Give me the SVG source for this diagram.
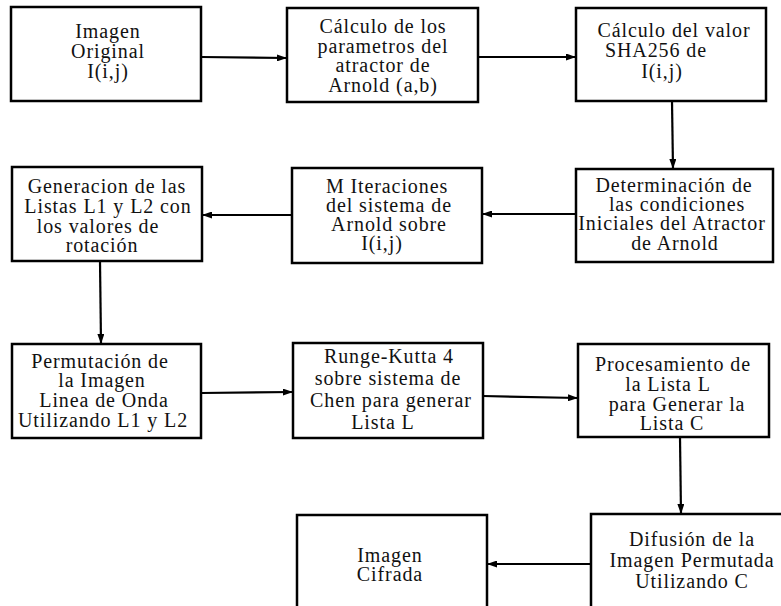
<svg xmlns="http://www.w3.org/2000/svg" width="781" height="606" viewBox="0 0 781 606">
<defs>
<style>
.box{fill:#fff;stroke:#000;stroke-width:2.5}
.t{font-family:"Liberation Serif","Times New Roman",serif;font-size:20px;letter-spacing:0.9px;fill:#111;text-anchor:middle}
.c{fill:none;stroke:#000;stroke-width:2.2}
</style>
<marker id="ah" viewBox="0 0 10 7" refX="10" refY="3.5" markerWidth="10" markerHeight="7" markerUnits="userSpaceOnUse" orient="auto">
<path d="M0,0 L10,3.5 L0,7 z" fill="#000"/>
</marker>
</defs>
<rect width="781" height="606" fill="#fff"/>
<g id="n1"><rect class="box" x="11" y="7" width="190" height="94"/>
<text class="t" x="108" y="38">Imagen</text><text class="t" x="108" y="58">Original</text><text class="t" x="108" y="78">I(i,j)</text></g>
<g id="n2"><rect class="box" x="287" y="8" width="191" height="94"/>
<text class="t" x="383" y="33">Cálculo de los</text><text class="t" x="383" y="53">parametros del</text><text class="t" x="383" y="72">atractor de</text><text class="t" x="383" y="92">Arnold (a,b)</text></g>
<g id="n3"><rect class="box" x="576" y="8" width="190" height="93"/>
<text class="t" x="674" y="37">Cálculo del valor</text><text class="t" x="656" y="57">SHA256 de</text><text class="t" x="662" y="78">I(i,j)</text></g>
<g id="n4"><rect class="box" x="576" y="169" width="197" height="93"/>
<text class="t" x="674" y="192">Determinación de</text><text class="t" x="677" y="211">las condiciones</text><text class="t" x="672" y="230">Iniciales del Atractor</text><text class="t" x="675" y="250">de Arnold</text></g>
<g id="n5"><rect class="box" x="292" y="168" width="190" height="95"/>
<text class="t" x="387" y="193">M Iteraciones</text><text class="t" x="389" y="212">del sistema de</text><text class="t" x="389" y="231">Arnold sobre</text><text class="t" x="382" y="250">I(i,j)</text></g>
<g id="n6"><rect class="box" x="12" y="167" width="190" height="94"/>
<text class="t" x="107" y="193">Generacion de las</text><text class="t" x="108" y="213">Listas L1 y L2 con</text><text class="t" x="98" y="233">los valores de</text><text class="t" x="102" y="252">rotación</text></g>
<g id="n7"><rect class="box" x="12" y="344" width="189" height="94"/>
<text class="t" x="100" y="368">Permutación de</text><text class="t" x="102" y="387">la Imagen</text><text class="t" x="104" y="407">Linea de Onda</text><text class="t" x="103" y="427">Utilizando L1 y L2</text></g>
<g id="n8"><rect class="box" x="293" y="343" width="190" height="95"/>
<text class="t" x="389" y="363">Runge-Kutta 4</text><text class="t" x="388" y="385">sobre sistema de</text><text class="t" x="391" y="407">Chen para generar</text><text class="t" x="383" y="429">Lista L</text></g>
<g id="n9"><rect class="box" x="578" y="344" width="191" height="93"/>
<text class="t" x="673" y="371">Procesamiento de</text><text class="t" x="668" y="391">la Lista L</text><text class="t" x="677" y="411">para Generar la</text><text class="t" x="672" y="430">Lista C</text></g>
<g id="n10"><rect class="box" x="591" y="514" width="200" height="106"/>
<text class="t" x="692" y="546">Difusión de la</text><text class="t" x="692" y="567">Imagen Permutada</text><text class="t" x="692" y="588">Utilizando C</text></g>
<g id="n11"><rect class="box" x="297" y="515" width="190" height="105"/>
<text class="t" x="390" y="562">Imagen</text><text class="t" x="390" y="581">Cifrada</text></g>
<g id="connectors">
<path class="c" d="M201,57 L287,58" marker-end="url(#ah)"/>
<path class="c" d="M478,57 L576,57" marker-end="url(#ah)"/>
<path class="c" d="M672,101 L673,169" marker-end="url(#ah)"/>
<path class="c" d="M576,214 L482,214" marker-end="url(#ah)"/>
<path class="c" d="M292,215 L202,215" marker-end="url(#ah)"/>
<path class="c" d="M100,261 L101,344" marker-end="url(#ah)"/>
<path class="c" d="M201,393 L293,392" marker-end="url(#ah)"/>
<path class="c" d="M483,396 L578,398" marker-end="url(#ah)"/>
<path class="c" d="M680,437 L681,514" marker-end="url(#ah)"/>
<path class="c" d="M591,564 L487,564" marker-end="url(#ah)"/>
</g>
</svg>
